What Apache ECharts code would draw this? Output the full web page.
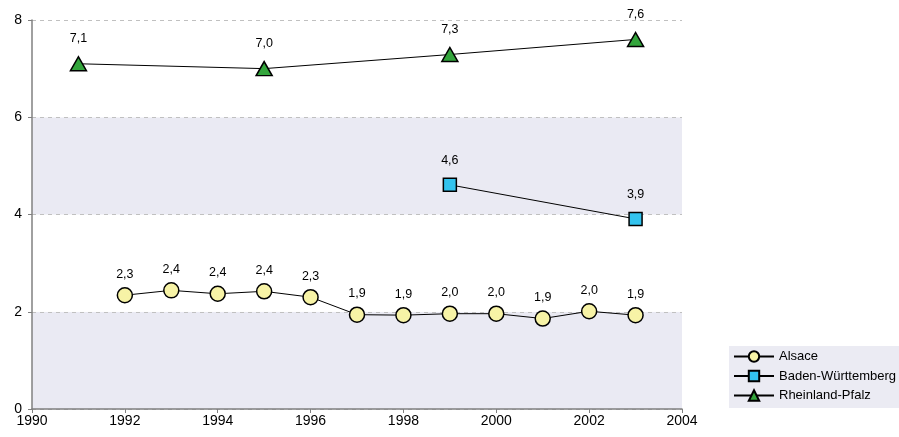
<!DOCTYPE html>
<html>
<head>
<meta charset="utf-8">
<script src="https://cdn.jsdelivr.net/npm/echarts@6/dist/echarts.min.js"></script>
<style>html,body{margin:0;padding:0;background:#fff;}#c{width:899px;height:437px;}</style>
</head>
<body>
<div id="c"></div>
<script>
var alsaceYears = [1992,1993,1994,1995,1996,1997,1998,1999,2000,2001,2002,2003];
var alsaceValues = [2.34,2.44,2.37,2.42,2.30,1.94,1.93,1.96,1.96,1.86,2.01,1.93];
var bwYears = [1999,2003];
var bwValues = [4.61,3.91];
var rpYears = [1991,1995,1999,2003];
var rpValues = [7.1,7.0,7.29,7.6];
var xTicks = [1990,1992,1994,1996,1998,2000,2002,2004];
var yTicks = [0,2,4,6,8];

function pairs(xs, ys){ return xs.map(function(x,i){ return [x, ys[i]]; }); }
function fmt(p){ return p.value[1].toFixed(1).replace('.', ','); }

var font = 'Liberation Sans, Arial, sans-serif';
var chart = echarts.init(document.getElementById('c'), null, {renderer:'canvas'});
chart.setOption({
  animation:false,
  backgroundColor:'#fff',
  grid:{left:32, right:217, top:20, bottom:28, containLabel:false},
  xAxis:{
    type:'value', min:xTicks[0], max:xTicks[xTicks.length-1], interval:2,
    axisLine:{show:true, onZero:false, lineStyle:{color:'#808080', width:1.5}},
    axisTick:{show:true, length:4, lineStyle:{color:'#808080'}},
    axisLabel:{color:'#000', fontFamily:font, fontSize:14, margin:5, formatter:function(v){return String(v);}},
    splitLine:{show:false}
  },
  yAxis:{
    type:'value', min:yTicks[0], max:yTicks[yTicks.length-1], interval:2,
    axisLine:{show:true, lineStyle:{color:'#808080', width:1.5}},
    axisTick:{show:true, length:4, lineStyle:{color:'#808080'}},
    axisLabel:{color:'#000', fontFamily:font, fontSize:14, margin:10},
    splitLine:{show:true, lineStyle:{color:'#c0c0c0', type:[4,4], width:1}},
    splitArea:{show:true, areaStyle:{color:['#eaeaf3','#ffffff']}}
  },
  legend:{
    orient:'vertical', left:729, top:346,
    backgroundColor:'#ebebf3',
    padding:[4,10,6,4],
    itemWidth:40, itemHeight:13, itemGap:6.5,
    textStyle:{color:'#000', fontFamily:font, fontSize:13},
    data:['Alsace','Baden-Württemberg','Rheinland-Pfalz']
  },
  series:[
    {
      name:'Alsace', type:'line', data:pairs(alsaceYears, alsaceValues),
      symbol:'circle', symbolSize:15,
      lineStyle:{color:'#000', width:1},
      itemStyle:{color:'#f7f3a6', borderColor:'#000', borderWidth:1.5},
      label:{show:true, position:'top', distance:6, formatter:fmt, color:'#000', fontFamily:font, fontSize:12.5}
    },
    {
      name:'Baden-Württemberg', type:'line', data:pairs(bwYears, bwValues),
      symbol:'rect', symbolSize:13,
      lineStyle:{color:'#000', width:1},
      itemStyle:{color:'#33c3ee', borderColor:'#000', borderWidth:1.5},
      label:{show:true, position:'top', distance:11, formatter:fmt, color:'#000', fontFamily:font, fontSize:12.5}
    },
    {
      name:'Rheinland-Pfalz', type:'line', data:pairs(rpYears, rpValues),
      symbol:'triangle', symbolSize:[16,14],
      lineStyle:{color:'#000', width:1},
      itemStyle:{color:'#33a53c', borderColor:'#000', borderWidth:1.5},
      label:{show:true, position:'top', distance:11, formatter:fmt, color:'#000', fontFamily:font, fontSize:12.5}
    }
  ]
});
</script>
</body>
</html>
